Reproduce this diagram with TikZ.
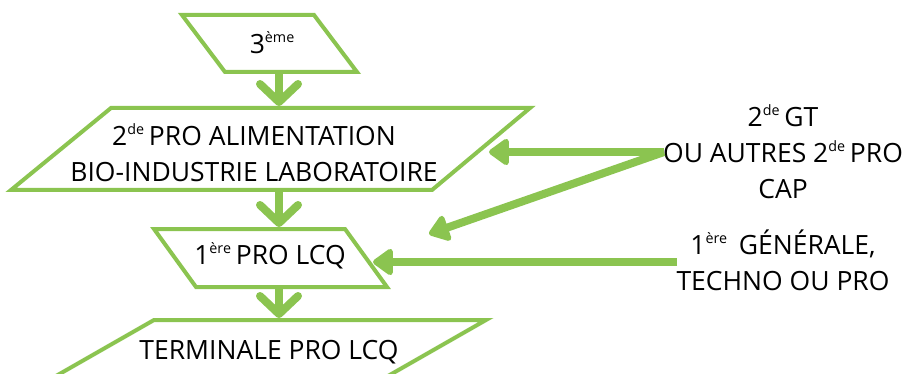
\documentclass[tikz,border=0pt]{standalone}
\usepackage{fontspec}
\setmainfont{Open Sans}
\usetikzlibrary{arrows.meta}
\definecolor{grn}{RGB}{139,196,80}
\newcommand\sups[1]{\raisebox{.42em}{\scalebox{0.54}{#1}}\hspace{-0.08em}}
\begin{document}
\begin{tikzpicture}[x=1pt,y=-1pt,
  shp/.style={draw=grn,line width=4pt,line join=miter},
  lbl/.style={font=\fontsize{26.5}{36}\selectfont,align=center,inner sep=0pt,text=black},
  downarrow/.style={draw=grn,line width=8pt,-{Straight Barb[length=18pt,width=38pt,round]}},
  sidearrow/.style={draw=grn,line width=8pt,-{Triangle[length=22pt,width=30pt,round]}}]
\useasboundingbox (0,0) rectangle (907,374);
\begin{scope}
\clip (0,0) rectangle (907,374);
% shapes
\draw[shp] (182,15) -- (314,15) -- (357,72) -- (225,72) -- cycle;
\draw[shp] (111,108) -- (530,108) -- (432,190) -- (11,190) -- cycle;
\draw[shp] (154,229) -- (345,229) -- (387,287) -- (196,287) -- cycle;
\draw[shp] (154,320) -- (486,320) -- (346,400) -- (14,400) -- cycle;
\end{scope}
% anchor coordinates on shape borders
\coordinate (b1) at (279,72);
\coordinate (t2) at (279,106);
\coordinate (b2) at (279,190);
\coordinate (t3) at (279,227);
\coordinate (b3) at (279,287);
\coordinate (t4) at (279,318);
\coordinate (r2) at (489,152);
\coordinate (r3) at (373,262);
\coordinate (mid) at (429,234);
% labels
\node[lbl] (n1) at (271,43) {3\sups{ème}};
\node[lbl] (n2) at (254,153) {2\sups{de} PRO ALIMENTATION\\BIO-INDUSTRIE LABORATOIRE};
\node[lbl] (n3) at (270,256) {1\sups{ère} PRO LCQ};
\node[lbl] (n4) at (269,352) {TERMINALE PRO LCQ};
\node[lbl] (g) at (783,152) {2\sups{de} GT\\OU AUTRES 2\sups{de} PRO\\CAP};
\node[lbl] (h) at (783,260) {1\sups{ère}\ \ GÉNÉRALE,\\TECHNO OU PRO};
\coordinate (gs) at (664,152);
\coordinate (hs) at (677,262);
% connectors
\draw[downarrow] (b1) -- (t2);
\draw[downarrow] (b2) -- (t3);
\draw[downarrow] (b3) -- (t4);
\draw[sidearrow] (gs) -- (r2);
\draw[sidearrow] (gs) -- (mid);
\draw[sidearrow] (hs) -- (r3);
\end{tikzpicture}
\end{document}
